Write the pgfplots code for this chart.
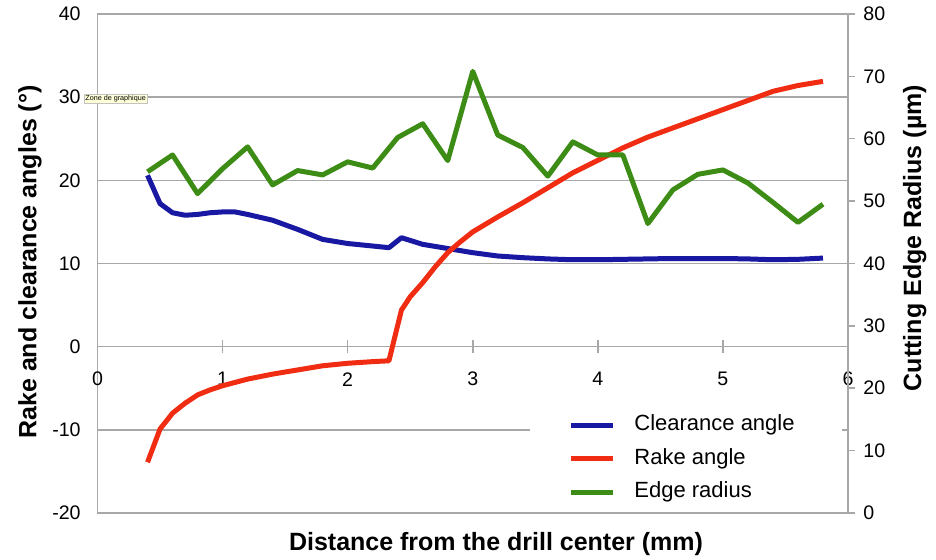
\documentclass[border=0pt]{standalone}
\usepackage{pgfplots}
\pgfplotsset{compat=1.18}
\usepackage{fontspec}
\setmainfont{Liberation Sans}
\definecolor{cblue}{HTML}{1818A2}
\definecolor{cred}{HTML}{F02C12}
\definecolor{cgreen}{HTML}{3C8C16}
\definecolor{gridgray}{HTML}{A8A8A8}
\definecolor{tipyellow}{HTML}{FFFFD8}
\begin{document}
\begin{tikzpicture}
\pgfplotsset{
  every axis/.append style={
    width=375.25pt, height=249.5pt, scale only axis,
    xmin=0, xmax=6,
    /pgf/number format/assume math mode=true,
    tick label style={font=\fontsize{9.8}{11}\selectfont},
  }
}
\begin{axis}[
  name=main,
  ymin=-20, ymax=40,
  ytick={-20,-10,0,10,20,30,40},
  xtick={0,1,2,3,4,5,6},
  axis x line=middle,
  axis y line=left,
  axis line style={draw=gridgray, line width=0.75pt, -},
  ymajorgrids,
  grid style={draw=gridgray, line width=0.75pt},
  hide obscured x ticks=false,
  hide obscured y ticks=false,
  x tick style={draw=gridgray, line width=0.75pt},
  xtick align=center,
  ytick style={draw=none},
  major tick length=6.5pt,
  xticklabel style={anchor=center, yshift=-13pt},
  yticklabel style={anchor=east, inner sep=0pt, xshift=-5pt},
  xlabel={Distance from the drill center (mm)},
  xlabel style={at={(axis description cs:0.531,-0.062)}, anchor=center,
    font=\bfseries\fontsize{12.5}{14}\selectfont},
  ylabel={Rake and clearance angles (°)},
  ylabel style={at={(axis description cs:-0.090,0.503)}, anchor=center, rotate=0,
    font=\bfseries\fontsize{12.5}{14}\selectfont},
  clip=false,
]
\fill[white] (axis description cs:0.5763,0.006) rectangle (axis description cs:0.992,0.228);
\addplot[cblue, line width=2.5pt, line join=round] coordinates {
(0.4,20.6) (0.5,17.2) (0.6,16.1) (0.7,15.8) (0.8,15.9) (0.9,16.1) (1.0,16.2)
(1.1,16.2) (1.2,15.9) (1.4,15.2) (1.6,14.1) (1.8,12.9) (2.0,12.4) (2.2,12.1)
(2.33,11.9) (2.43,13.1) (2.6,12.3) (2.8,11.8) (3.0,11.3) (3.2,10.9) (3.4,10.7)
(3.6,10.55) (3.8,10.45) (4.0,10.45) (4.2,10.5) (4.4,10.55) (4.6,10.6) (4.8,10.6)
(5.0,10.6) (5.2,10.55) (5.4,10.45) (5.6,10.5) (5.8,10.65)
};
\addplot[cred, line width=2.5pt, line join=round] coordinates {
(0.4,-13.9) (0.5,-9.9) (0.6,-8.0) (0.7,-6.8) (0.8,-5.8) (0.9,-5.2) (1.0,-4.7)
(1.2,-3.9) (1.4,-3.3) (1.6,-2.8) (1.8,-2.3) (2.0,-2.0) (2.2,-1.8) (2.33,-1.7)
(2.43,4.4) (2.5,6.0) (2.6,7.7) (2.7,9.6) (2.8,11.3) (2.9,12.6) (3.0,13.8)
(3.2,15.6) (3.4,17.3) (3.6,19.1) (3.8,20.9) (4.0,22.4) (4.2,23.9) (4.4,25.2)
(4.6,26.3) (4.8,27.4) (5.0,28.5) (5.2,29.6) (5.4,30.7) (5.6,31.4) (5.8,31.9)
};
\node[fill=tipyellow, draw=gridgray!70, line width=0.2pt, inner sep=0.6pt,
  font=\fontsize{3.6}{4}\selectfont, anchor=west]
  at (axis description cs:-0.018,0.8307) {Zone de graphique};
\end{axis}
\begin{axis}[
  ymin=0, ymax=80,
  ytick={0,10,20,30,40,50,60,70,80},
  axis x line=none,
  axis y line*=right,
  axis line style={draw=gridgray, line width=0.75pt, -},
  ytick style={draw=gridgray, line width=0.75pt},
  ytick align=outside,
  major tick length=3.5pt,
  yticklabel style={anchor=west, inner sep=0pt, xshift=4pt},
  ylabel={Cutting Edge Radius (µm)},
  ylabel style={at={(axis description cs:1.089,0.551)}, anchor=center, rotate=0,
    font=\bfseries\fontsize{12.5}{14}\selectfont},
  legend style={draw=none, fill=none, at={(axis description cs:0.5763,0.198)},
    anchor=north west, inner xsep=0pt, inner ysep=0pt,
    font=\fontsize{11}{13}\selectfont,
    nodes={inner sep=0pt, text height=8pt, text depth=2.5pt},
    row sep=6.3pt, column sep=9.5pt},
  legend cell align=left,
  legend image code/.code={\path (0pt,0pt); \draw[#1, line width=2.5pt] (19pt,0pt) -- (40pt,0pt);},
  clip=false,
]
\addlegendimage{cblue}
\addlegendentry{Clearance angle}
\addlegendimage{cred}
\addlegendentry{Rake angle}
\addplot[cgreen, line width=2.5pt, line join=round] coordinates {
(0.4,54.7) (0.6,57.4) (0.8,51.2) (1.0,55.2) (1.2,58.7) (1.4,52.6) (1.6,54.9)
(1.8,54.2) (2.0,56.3) (2.2,55.3) (2.4,60.2) (2.6,62.4) (2.8,56.5) (3.0,70.8)
(3.2,60.6) (3.4,58.6) (3.6,54.0) (3.8,59.5) (4.0,57.4) (4.2,57.4) (4.4,46.4)
(4.6,51.8) (4.8,54.3) (5.0,55.0) (5.2,52.9) (5.4,49.8) (5.6,46.6) (5.8,49.5)
};
\addlegendentry{Edge radius}
\end{axis}
\pgfresetboundingbox
\path (main.south west) ++(-48.75pt,-23.5pt) coordinate (bbsw);
\path (main.north east) ++(44pt,7pt) coordinate (bbne);
\path (bbsw) rectangle (bbne);
\end{tikzpicture}
\end{document}
